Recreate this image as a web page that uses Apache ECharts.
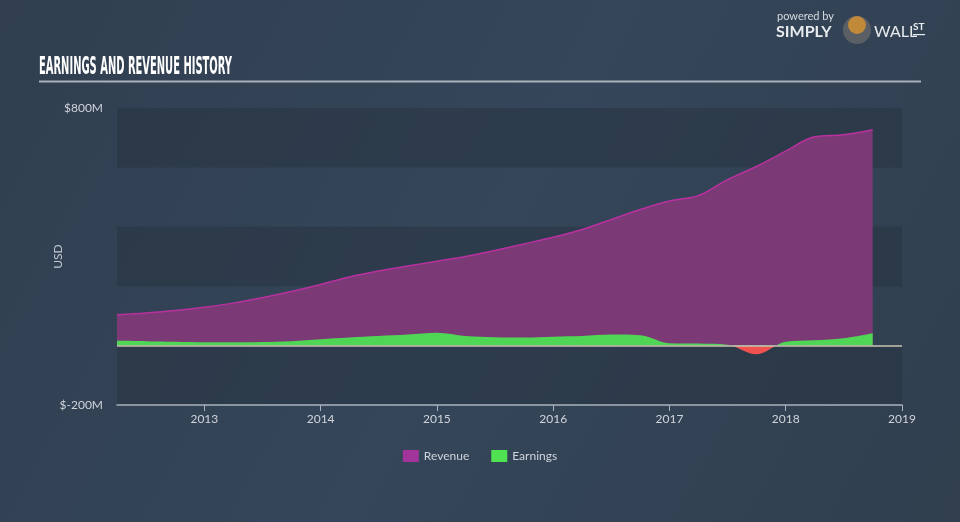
<!DOCTYPE html>
<html><head><meta charset="utf-8">
<script src="https://cdn.jsdelivr.net/npm/echarts@6/dist/echarts.min.js"></script>
<style>html,body{margin:0;padding:0;background:#344354;}#c{width:960px;height:522px;}</style>
</head><body><div id="c"></div>
<script>
const dates = ['2012-03-31','2012-06-30','2012-09-30','2012-12-31','2013-03-31','2013-06-30','2013-09-30','2013-12-31',
'2014-03-31','2014-06-30','2014-09-30','2014-12-31','2015-03-31','2015-06-30','2015-09-30','2015-12-31',
'2016-03-31','2016-06-30','2016-09-30','2016-12-31','2017-03-31','2017-06-30','2017-09-30','2017-12-31',
'2018-03-31','2018-06-30','2018-09-30'];
const revenue = [104,110,118,129,143,161,182,206,231,251,268,284,300,320,342,365,391,424,458,487,505,558,603,655,703,710,727];
const earnings = [16,15,13,11,11,12,15,21,27,32,37,43,32,28,27,30,32,37,35,8,7,3,-29,13,18,25,42];
const yTickLabels = {'800':'$800M','-200':'$-200M'};
const xTickYears = [2013,2014,2015,2016,2017,2018,2019];

// convert a date string to a fractional year (for a linear year axis)
function toYear(s){
  const d = new Date(s + 'T00:00:00Z');
  const y = d.getUTCFullYear();
  const start = Date.UTC(y,0,1), end = Date.UTC(y+1,0,1);
  return y + (d.getTime() - start + 86400000) / (end - start);
}
const xs = dates.map(toYear);

const chart = echarts.init(document.getElementById('c'));
const font = 'Lato, "Open Sans", sans-serif';
const GREEN = '#4fd655', RED = '#f0524f';
chart.setOption({
  backgroundColor: new echarts.graphic.LinearGradient(0,0,1,1,[{offset:0,color:'#303e4f'},{offset:0.5,color:'#35465a'},{offset:1,color:'#303e4e'}]),
  animation: false,
  grid: {left:117, right:58, top:108, bottom:117},
  legend: {
    bottom: 55, left: 'center', itemWidth: 16, itemHeight: 12, itemGap: 22, icon: 'rect',
    textStyle: {color:'#d0d4da', fontSize: 12, fontFamily: font},
    data: [{name:'Revenue', itemStyle:{color:'#a2359c'}}, {name:'Earnings', itemStyle:{color:'#4fe150'}}]
  },
  xAxis: {
    type: 'value',
    min: xs[0], max: 2019,
    axisLine: {show:true, onZero:false, lineStyle:{color:'#a9b3bf', width:1.5}},
    axisTick: {show:true, length:6, customValues: xTickYears, lineStyle:{color:'#a9b3bf'}},
    splitLine: {show:false},
    axisLabel: {color:'#d0d4da', fontSize:12, fontFamily:font, margin:8, customValues: xTickYears,
      formatter: function(v){ return String(Math.round(v)); }}
  },
  yAxis: {
    type: 'value', min: -200, max: 800, interval: 200,
    name: 'USD', nameLocation: 'middle', nameGap: 53, nameRotate: 90, nameMoveOverlap: false,
    nameTextStyle: {color:'#c4cad2', fontSize:12, fontFamily:font},
    axisLine: {show:false}, axisTick: {show:false},
    splitLine: {show:false},
    splitArea: {show:true, areaStyle:{color:['rgba(38,50,64,0.5)','rgba(0,0,0,0)']}},
    axisLabel: {color:'#d0d4da', fontSize:12, fontFamily:font, margin:14,
      formatter: function(v){ return yTickLabels[String(v)] || ''; }}
  },
  series: [
    {name:'Revenue', type:'line', smooth:0.35, symbol:'none', z:2,
     data: xs.map((x,i)=>[x,revenue[i]]),
     lineStyle:{color:'#b8319f', width:1.5},
     itemStyle:{color:'#a2359c'},
     areaStyle:{color:'#7b3a75', opacity:1},
     markLine:{silent:true, symbol:'none', label:{show:false}, z:5,
       lineStyle:{color:'#c9c4b4', width:1.5, type:'solid'}, data:[{yAxis:0}]}},
    {name:'Earnings', type:'line', smooth:0.35, symbol:'none', z:3,
     data: xs.map((x,i)=>[x,earnings[i]]),
     lineStyle:{width:0},
     itemStyle:{color:'#4fe150'},
     areaStyle:{color:GREEN, opacity:1}}
  ],
  graphic: [
    {type:'text', left:39, top:56, scaleX:0.46,
     style:{text:'EARNINGS AND REVENUE HISTORY', fill:'#ffffff', font:'bold 24px "Liberation Sans Narrow", "DejaVu Sans Condensed", sans-serif'}},
    {type:'rect', shape:{x:39, y:80.5, width:882, height:2}, style:{fill:'#aab1ba'}},
    {type:'text', left:777, top:11, style:{text:'powered by', fill:'#d6dbe0', font:'11px Lato, sans-serif'}},
    {type:'text', left:776, top:24, style:{text:'SIMPLY', fill:'#e8ebee', font:'bold 16px Lato, sans-serif'}},
    {type:'circle', shape:{cx:857, cy:30, r:14}, style:{fill:'#5a5f66'}},
    {type:'circle', shape:{cx:857, cy:25, r:9}, style:{fill:'#c08a3a'}},
    {type:'text', left:874, top:24, style:{text:'WALL', fill:'#e8ebee', font:'16px Lato, sans-serif'}},
    {type:'text', left:913, top:22, style:{text:'ST', fill:'#e8ebee', font:'bold 10px Lato, sans-serif'}},
    {type:'rect', shape:{x:913, y:34, width:12, height:1.2}, style:{fill:'#e8ebee'}}
  ]
});

// colour the earnings area green above zero and red below, using the axis scale
const yTop = chart.convertToPixel({yAxisIndex:0}, 800);
const yBot = chart.convertToPixel({yAxisIndex:0}, -200);
const yZero = chart.convertToPixel({yAxisIndex:0}, 0);
const off = (yZero - yTop) / (yBot - yTop);
chart.setOption({series:[{}, {areaStyle:{color: new echarts.graphic.LinearGradient(0, yTop, 0, yBot, [
  {offset:0, color:GREEN},{offset:off, color:GREEN},{offset:off, color:RED},{offset:1, color:RED}], true)}}]});
</script></body></html>
